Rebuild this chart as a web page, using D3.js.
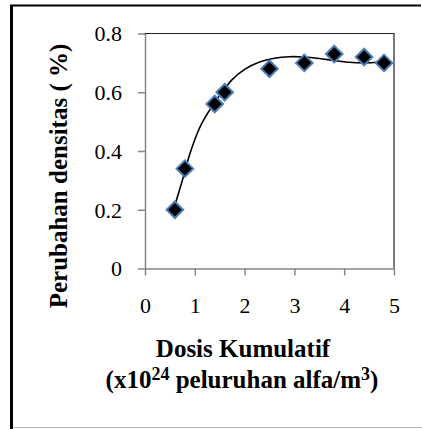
<!DOCTYPE html>
<html><head><meta charset="utf-8">
<script src="https://cdn.jsdelivr.net/npm/d3@7"></script>
<style>html,body{margin:0;padding:0;background:#fff;}svg{display:block;}</style>
</head><body>
<script>
const doseX = [0.6, 0.8, 1.4, 1.6, 2.5, 3.2, 3.8, 4.4, 4.8];
const densityY = [0.20, 0.34, 0.56, 0.60, 0.68, 0.70, 0.73, 0.72, 0.70];
const trendX = [0.6, 0.75, 0.9, 1.1, 1.3, 1.5, 1.75, 2.0, 2.3, 2.6, 2.9, 3.2, 3.5, 3.8, 4.1, 4.4, 4.65, 4.8];
const trendY = [0.215, 0.30, 0.39, 0.48, 0.54, 0.59, 0.643, 0.678, 0.703, 0.716, 0.721, 0.720, 0.715, 0.708, 0.702, 0.700, 0.702, 0.707];
const xTicks = [0, 1, 2, 3, 4, 5];
const yTicks = [0, 0.2, 0.4, 0.6, 0.8];

const W = 422, H = 429;
const FONT = '"Liberation Serif"';
const svg = d3.select("body").append("svg").attr("width", W).attr("height", H);

// outer frame
svg.append("line").attr("x1", 11.5).attr("x2", 11.5).attr("y1", 5).attr("y2", 429).attr("stroke", "#000").attr("stroke-width", 3);
svg.append("line").attr("x1", 10).attr("x2", 421).attr("y1", 5.5).attr("y2", 5.5).attr("stroke", "#000").attr("stroke-width", 2);
svg.append("line").attr("x1", 13).attr("x2", 422).attr("y1", 427.5).attr("y2", 427.5).attr("stroke", "#b0b0b0").attr("stroke-width", 1);

const L = 145, R = 394, T = 33.5, B = 268.5;
const x = d3.scaleLinear().domain([0, 5]).range([L, R]);
const y = d3.scaleLinear().domain([0, 0.8]).range([B, T]);

// plot border top/right
svg.append("path").attr("d", `M${L},${T}H${R}V${B}`).attr("fill", "none").attr("stroke", "#222").attr("stroke-width", 1.2);

// axes
const xAxis = svg.append("g").attr("transform", `translate(0,${B})`)
  .call(d3.axisBottom(x).tickValues(xTicks).tickSize(7).tickSizeOuter(0).tickFormat(d3.format("d")));
const yAxis = svg.append("g").attr("transform", `translate(${L},0)`)
  .call(d3.axisLeft(y).tickValues(yTicks).tickSize(7).tickSizeOuter(0).tickFormat(d => d === 0 ? "0" : d3.format(".1f")(d)));
[xAxis, yAxis].forEach(g => {
  g.select(".domain").attr("stroke", "#868686").attr("stroke-width", 1.5);
  g.selectAll(".tick line").attr("stroke", "#868686").attr("stroke-width", 1.5);
  g.selectAll("text").style("font-family", FONT).style("font-size", "22px").attr("fill", "#000");
});
xAxis.selectAll("text").attr("y", 0).attr("dy", 0).attr("transform", "translate(0,44)");
yAxis.selectAll("text").attr("x", -23).attr("dy", "0.34em");

// trend line
const trend = trendX.map((v, i) => [v, trendY[i]]);
svg.append("path").datum(trend)
  .attr("d", d3.line().x(d => x(d[0])).y(d => y(d[1])).curve(d3.curveCatmullRom.alpha(0.5)))
  .attr("fill", "none").attr("stroke", "#000").attr("stroke-width", 1.6);

// markers
const sym = d3.symbol().type(d3.symbolDiamond2).size(175);
svg.append("g").selectAll("path").data(doseX.map((v, i) => [v, densityY[i]])).join("path")
  .attr("d", sym)
  .attr("transform", d => `translate(${x(d[0])},${y(d[1])})`)
  .attr("fill", "#000").attr("stroke", "#4a7ebb").attr("stroke-width", 2);

// titles
svg.append("text").attr("transform", "translate(67,176) rotate(-90)")
  .attr("text-anchor", "middle").style("font-family", FONT).style("font-weight", "bold").style("font-size", "25px")
  .text("Perubahan densitas ( %)");
svg.append("text").attr("x", 243).attr("y", 357)
  .attr("text-anchor", "middle").style("font-family", FONT).style("font-weight", "bold").style("font-size", "25px")
  .text("Dosis Kumulatif");
const t2 = svg.append("text").attr("x", 242).attr("y", 388)
  .attr("text-anchor", "middle").style("font-family", FONT).style("font-weight", "bold").style("font-size", "25px");
t2.append("tspan").text("(x10");
t2.append("tspan").attr("dy", -8).style("font-size", "18px").text("24");
t2.append("tspan").attr("dy", 8).text(" peluruhan alfa/m");
t2.append("tspan").attr("dy", -8).style("font-size", "18px").text("3");
t2.append("tspan").attr("dy", 8).text(")");
</script>
</body></html>
